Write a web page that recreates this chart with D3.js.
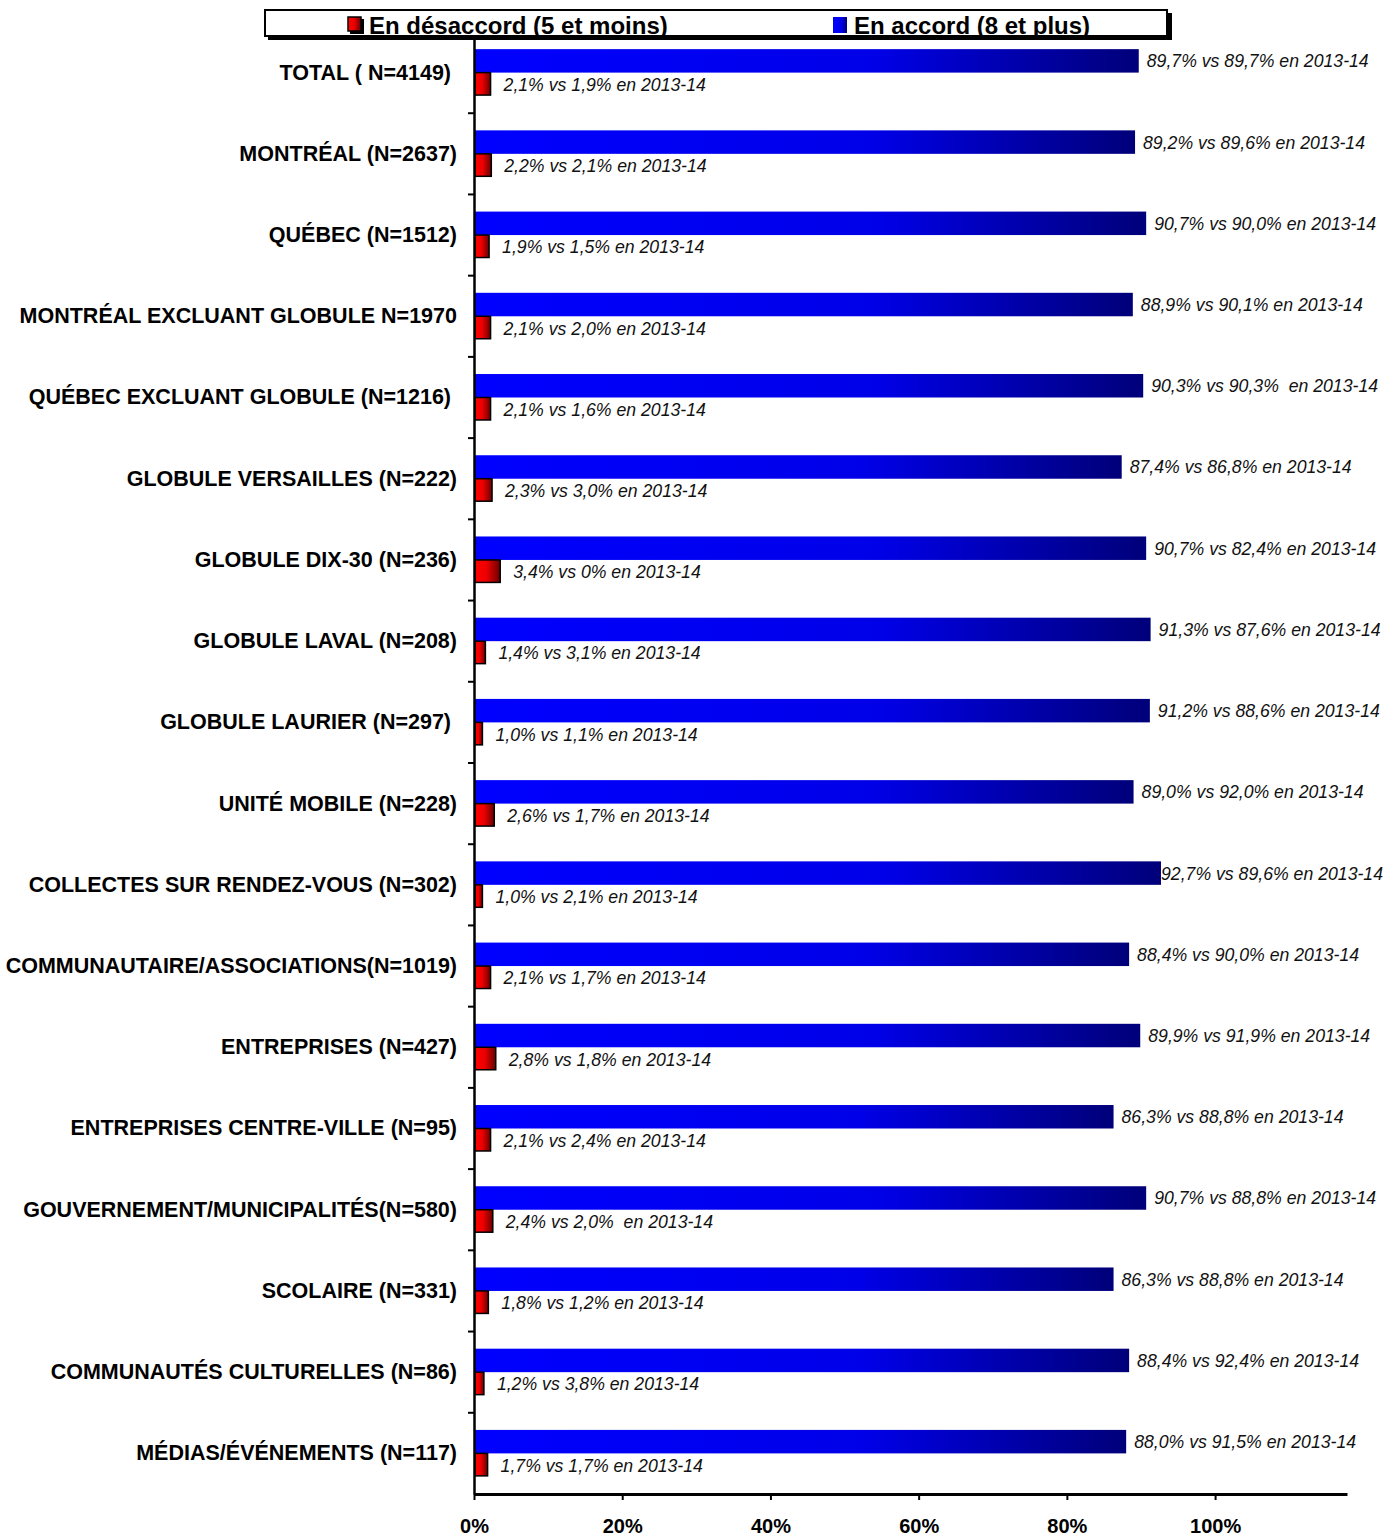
<!DOCTYPE html>
<html>
<head>
<meta charset="utf-8">
<script src="https://cdn.jsdelivr.net/npm/d3@7"></script>
<style>
  body { margin: 0; background: #fff; }
  svg text { font-family: "Liberation Sans", Arial, sans-serif; }
</style>
</head>
<body>
<div id="chart"></div>
<script>
// categories, top to bottom
var categories = [
  'TOTAL ( N=4149) ',
  'MONTRÉAL (N=2637)',
  'QUÉBEC (N=1512)',
  'MONTRÉAL EXCLUANT GLOBULE N=1970',
  'QUÉBEC EXCLUANT GLOBULE (N=1216) ',
  'GLOBULE VERSAILLES (N=222)',
  'GLOBULE DIX-30 (N=236)',
  'GLOBULE LAVAL (N=208)',
  'GLOBULE LAURIER (N=297) ',
  'UNITÉ MOBILE (N=228)',
  'COLLECTES SUR RENDEZ-VOUS (N=302)',
  'COMMUNAUTAIRE/ASSOCIATIONS(N=1019)',
  'ENTREPRISES (N=427)',
  'ENTREPRISES CENTRE-VILLE (N=95)',
  'GOUVERNEMENT/MUNICIPALITÉS(N=580)',
  'SCOLAIRE (N=331)',
  'COMMUNAUTÉS CULTURELLES (N=86)',
  'MÉDIAS/ÉVÉNEMENTS (N=117)'
];

// % en accord (8 et plus)
var accord = [89.7, 89.2, 90.7, 88.9, 90.3, 87.4, 90.7, 91.3, 91.2, 89.0, 92.7, 88.4, 89.9, 86.3, 90.7, 86.3, 88.4, 88.0];
// % en désaccord (5 et moins)
var desaccord = [2.1, 2.2, 1.9, 2.1, 2.1, 2.3, 3.4, 1.4, 1.0, 2.6, 1.0, 2.1, 2.8, 2.1, 2.4, 1.8, 1.2, 1.7];

var accordLabels = [
  '89,7% vs 89,7% en 2013-14', '89,2% vs 89,6% en 2013-14', '90,7% vs 90,0% en 2013-14',
  '88,9% vs 90,1% en 2013-14', '90,3% vs 90,3%  en 2013-14', '87,4% vs 86,8% en 2013-14',
  '90,7% vs 82,4% en 2013-14', '91,3% vs 87,6% en 2013-14', '91,2% vs 88,6% en 2013-14',
  '89,0% vs 92,0% en 2013-14', '92,7% vs 89,6% en 2013-14', '88,4% vs 90,0% en 2013-14',
  '89,9% vs 91,9% en 2013-14', '86,3% vs 88,8% en 2013-14', '90,7% vs 88,8% en 2013-14',
  '86,3% vs 88,8% en 2013-14', '88,4% vs 92,4% en 2013-14', '88,0% vs 91,5% en 2013-14'
];
var desaccordLabels = [
  '2,1% vs 1,9% en 2013-14', '2,2% vs 2,1% en 2013-14', '1,9% vs 1,5% en 2013-14',
  '2,1% vs 2,0% en 2013-14', '2,1% vs 1,6% en 2013-14', '2,3% vs 3,0% en 2013-14',
  '3,4% vs 0% en 2013-14', '1,4% vs 3,1% en 2013-14', '1,0% vs 1,1% en 2013-14',
  '2,6% vs 1,7% en 2013-14', '1,0% vs 2,1% en 2013-14', '2,1% vs 1,7% en 2013-14',
  '2,8% vs 1,8% en 2013-14', '2,1% vs 2,4% en 2013-14', '2,4% vs 2,0%  en 2013-14',
  '1,8% vs 1,2% en 2013-14', '1,2% vs 3,8% en 2013-14', '1,7% vs 1,7% en 2013-14'
];

var xTicks = [0, 20, 40, 60, 80, 100];
var legendItems = ['En désaccord (5 et moins)', 'En accord (8 et plus)'];

var W = 1397, H = 1537;
var FONT = '"Liberation Sans", Arial, sans-serif';
var svg = d3.select('#chart').append('svg')
  .attr('width', W)
  .attr('height', H);

var defs = svg.append('defs');
function grad(id, stops){
  var g = defs.append('linearGradient').attr('id', id)
    .attr('x1', '0%').attr('x2', '100%').attr('y1', '0%').attr('y2', '0%');
  stops.forEach(function(s){
    g.append('stop').attr('offset', s[0]).attr('stop-color', s[1]);
  });
}
grad('blueGrad', [['0%', '#0000ff'], ['60%', '#0000e8'], ['100%', '#00007a']]);
grad('redGrad', [['0%', '#ff0000'], ['45%', '#ee0000'], ['100%', '#6a0000']]);

var x = d3.scaleLinear().domain([0, 117.8]).range([474, 1347]);
var y = d3.scaleBand().domain(categories).range([32, 1494]);
var sub = d3.scaleBand().domain(['accord', 'desaccord'])
  .range([0, y.bandwidth()]).paddingOuter(0.73);

var rows = categories.map(function(c, i){
  return {cat: c, a: accord[i], d: desaccord[i], la: accordLabels[i], ld: desaccordLabels[i]};
});

// bars
var g = svg.append('g');
g.selectAll('.bar-a').data(rows).enter().append('rect')
  .attr('class', 'bar-a')
  .attr('x', x(0))
  .attr('y', d => y(d.cat) + sub('accord'))
  .attr('width', d => x(d.a) - x(0))
  .attr('height', sub.bandwidth())
  .attr('fill', 'url(#blueGrad)');

g.selectAll('.bar-d').data(rows).enter().append('rect')
  .attr('class', 'bar-d')
  .attr('x', x(0) + 1)
  .attr('y', d => y(d.cat) + sub('desaccord'))
  .attr('width', d => x(d.d) - x(0))
  .attr('height', sub.bandwidth() - 1)
  .attr('fill', 'url(#redGrad)')
  .attr('stroke', '#000')
  .attr('stroke-width', 1.5);

// value labels
function squeeze(sel, k){
  sel.each(function(){
    var len = this.getComputedTextLength();
    d3.select(this).attr('textLength', len * k).attr('lengthAdjust', 'spacingAndGlyphs');
  });
}
var la = g.selectAll('.lab-a').data(rows).enter().append('text')
  .attr('class', 'lab-a')
  .attr('x', d => x(d.a) + 8)
  .attr('y', d => y(d.cat) + sub('accord') + sub.bandwidth() / 2)
  .attr('dominant-baseline', 'central')
  .style('font-family', FONT)
  .style('font-size', '18.6px')
  .style('font-style', 'italic')
  .style('white-space', 'pre')
  .attr('fill', '#111')
  .text(d => d.la);
squeeze(la, 0.95);
// keep the labels inside the picture
la.each(function(){
  var t = d3.select(this);
  var len = +t.attr('textLength');
  var x0 = +t.attr('x');
  if (x0 + len > W - 14) t.attr('x', W - 14 - len);
});

var ld = g.selectAll('.lab-d').data(rows).enter().append('text')
  .attr('class', 'lab-d')
  .attr('x', d => x(d.d) + 14)
  .attr('y', d => y(d.cat) + sub('desaccord') + sub.bandwidth() / 2)
  .attr('dominant-baseline', 'central')
  .style('font-family', FONT)
  .style('font-size', '18.6px')
  .style('font-style', 'italic')
  .style('white-space', 'pre')
  .attr('fill', '#111')
  .text(d => d.ld);
squeeze(ld, 0.95);

// y axis
var yAxis = svg.append('g')
  .attr('transform', 'translate(' + x(0) + ',0)')
  .call(d3.axisLeft(y).tickSize(0).tickPadding(17));
yAxis.select('.domain').attr('stroke', '#000').attr('stroke-width', 2.5);
yAxis.selectAll('text')
  .style('font-family', FONT)
  .style('font-size', '21.5px')
  .style('font-weight', 'bold')
  .style('white-space', 'pre')
  .attr('fill', '#000');
// ticks on category boundaries
svg.append('g').selectAll('line').data(categories.slice(1)).enter().append('line')
  .attr('x1', x(0) - 6).attr('x2', x(0))
  .attr('y1', d => y(d)).attr('y2', d => y(d))
  .attr('stroke', '#000').attr('stroke-width', 2);

// x axis
var xAxis = svg.append('g')
  .attr('transform', 'translate(0,' + 1494 + ')')
  .call(d3.axisBottom(x).tickValues(xTicks).tickFormat(d => d + '%').tickSize(6).tickSizeOuter(0).tickPadding(19));
xAxis.select('.domain').attr('stroke', '#000').attr('stroke-width', 3);
xAxis.selectAll('.tick line').attr('stroke', '#000').attr('stroke-width', 2);
xAxis.selectAll('text')
  .style('font-family', FONT)
  .style('font-size', '20px')
  .style('font-weight', 'bold')
  .attr('fill', '#000');

// legend
var leg = svg.append('g');
leg.append('rect').attr('x', 268).attr('y', 13).attr('width', 904).attr('height', 27).attr('fill', '#000');
leg.append('rect').attr('x', 265).attr('y', 10).attr('width', 902).attr('height', 26)
  .attr('fill', '#fff');

var legX = [348, 833];
legendItems.forEach(function(t, i){
  if (i === 0){
    leg.append('rect').attr('x', legX[i] + 2).attr('y', 19).attr('width', 14).attr('height', 15).attr('fill', '#000');
    leg.append('rect').attr('x', legX[i]).attr('y', 17).attr('width', 13).attr('height', 14)
      .attr('fill', 'url(#redGrad)').attr('stroke', '#000').attr('stroke-width', 1.5);
  } else {
    leg.append('rect').attr('x', legX[i]).attr('y', 17).attr('width', 14).attr('height', 16)
      .attr('fill', 'url(#blueGrad)');
  }
  leg.append('text')
    .attr('x', legX[i] + 21)
    .attr('y', 33.5)
    .style('font-family', FONT)
    .style('font-size', '24px')
    .style('font-weight', 'bold')
    .attr('fill', '#000')
    .text(t);
});
// box border drawn over the text, like the original
leg.append('rect').attr('x', 265).attr('y', 10).attr('width', 902).attr('height', 26)
  .attr('fill', 'none').attr('stroke', '#000').attr('stroke-width', 2);
</script>
</body>
</html>
